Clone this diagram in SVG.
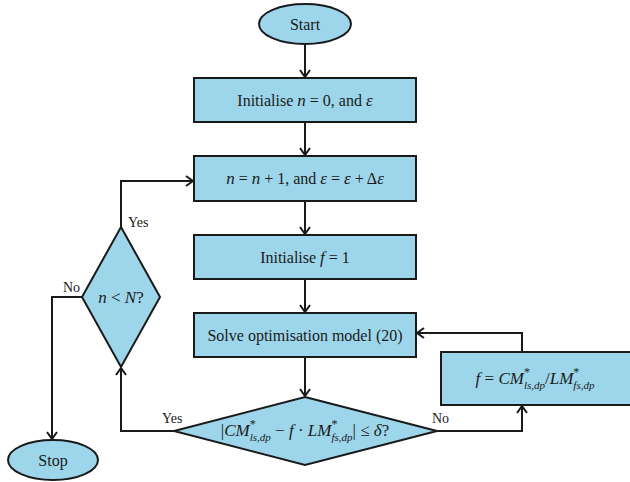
<svg xmlns="http://www.w3.org/2000/svg" width="630" height="482" viewBox="0 0 630 482">
<defs>
<style>
.n{fill:#9dd6ea;stroke:#1a1a1a;stroke-width:2}
.c{fill:none;stroke:#1a1a1a;stroke-width:2}
.t{font-family:"Liberation Serif","Times New Roman",serif;font-size:16px;fill:#1a1a1a;text-anchor:middle}
.m{font-size:17px}
.l{font-family:"Liberation Serif","Times New Roman",serif;font-size:14px;fill:#1a1a1a}
.i{font-style:italic}
.s{font-size:12px}
.b{font-size:11px}
</style>
<marker id="a" markerWidth="12" markerHeight="12" refX="10" refY="6" orient="auto" markerUnits="userSpaceOnUse">
<path d="M3,1 L10,6 L3,11" fill="none" stroke="#1a1a1a" stroke-width="2"/>
</marker>
</defs>
<rect width="630" height="482" fill="#ffffff"/>
<g id="connectors">
<line class="c" x1="305" y1="44" x2="305" y2="77" marker-end="url(#a)"/>
<line class="c" x1="305" y1="122" x2="305" y2="155" marker-end="url(#a)"/>
<line class="c" x1="305" y1="201" x2="305" y2="234" marker-end="url(#a)"/>
<line class="c" x1="305" y1="279" x2="305" y2="312" marker-end="url(#a)"/>
<line class="c" x1="305" y1="357" x2="305" y2="396" marker-end="url(#a)"/>
<polyline class="c" points="437,431 522,431 522,406" marker-end="url(#a)"/>
<polyline class="c" points="522,352 522,333 417,333" marker-end="url(#a)"/>
<polyline class="c" points="174,431 121,431 121,368" marker-end="url(#a)"/>
<polyline class="c" points="121,227 121,181 193,181" marker-end="url(#a)"/>
<polyline class="c" points="82,297 52,297 52,439" marker-end="url(#a)"/>
</g>
<g id="labels">
<text class="l" x="128" y="227">Yes</text>
<text class="l" x="63" y="292">No</text>
<text class="l" x="162" y="423">Yes</text>
<text class="l" x="432" y="423">No</text>
</g>
<g id="start">
<ellipse class="n" cx="305" cy="24" rx="46" ry="20"/>
<text class="t" x="305" y="30">Start</text>
</g>
<g id="init">
<rect class="n" x="194" y="78" width="222" height="44"/>
<text class="t" x="305" y="106">Initialise <tspan class="i m">n</tspan> = 0, and <tspan class="i m">ε</tspan></text>
</g>
<g id="increment">
<rect class="n" x="194" y="156" width="222" height="45"/>
<text class="t" x="305" y="184"><tspan class="i m">n</tspan> = <tspan class="i m">n</tspan> + 1, and <tspan class="i m">ε</tspan> = <tspan class="i m">ε</tspan> + Δ<tspan class="i m">ε</tspan></text>
</g>
<g id="initf">
<rect class="n" x="194" y="235" width="222" height="44"/>
<text class="t" x="305" y="263">Initialise <tspan class="i m">f</tspan> = 1</text>
</g>
<g id="solve">
<rect class="n" x="194" y="313" width="222" height="44"/>
<text class="t" x="305" y="341">Solve optimisation model (20)</text>
</g>
<g id="check">
<polygon class="n" points="305,397 437,431 305,465 174,431"/>
<text class="t m" x="305" y="436">|<tspan class="i">CM</tspan><tspan class="s" dy="-8">*</tspan><tspan class="b i" dx="-6" dy="13">ls,dp</tspan><tspan dy="-5"> − </tspan><tspan class="i">f</tspan> · <tspan class="i">LM</tspan><tspan class="s" dy="-8">*</tspan><tspan class="b i" dx="-6" dy="13">fs,dp</tspan><tspan dy="-5">| ≤ </tspan><tspan class="i">δ</tspan>?</text>
</g>
<g id="update">
<rect class="n" x="441" y="352" width="192" height="53"/>
<text class="t m" x="535" y="384"><tspan class="i">f</tspan> = <tspan class="i">CM</tspan><tspan class="s" dy="-8">*</tspan><tspan class="b i" dx="-6" dy="13">ls,dp</tspan><tspan dy="-5">/</tspan><tspan class="i">LM</tspan><tspan class="s" dy="-8">*</tspan><tspan class="b i" dx="-6" dy="13">fs,dp</tspan></text>
</g>
<g id="loop">
<polygon class="n" points="121,227 160,297 121,367 82,297"/>
<text class="t m" x="121" y="303"><tspan class="i">n</tspan> &lt; <tspan class="i">N</tspan>?</text>
</g>
<g id="stop">
<ellipse class="n" cx="53" cy="460" rx="45" ry="20"/>
<text class="t" x="53" y="466">Stop</text>
</g>
</svg>
